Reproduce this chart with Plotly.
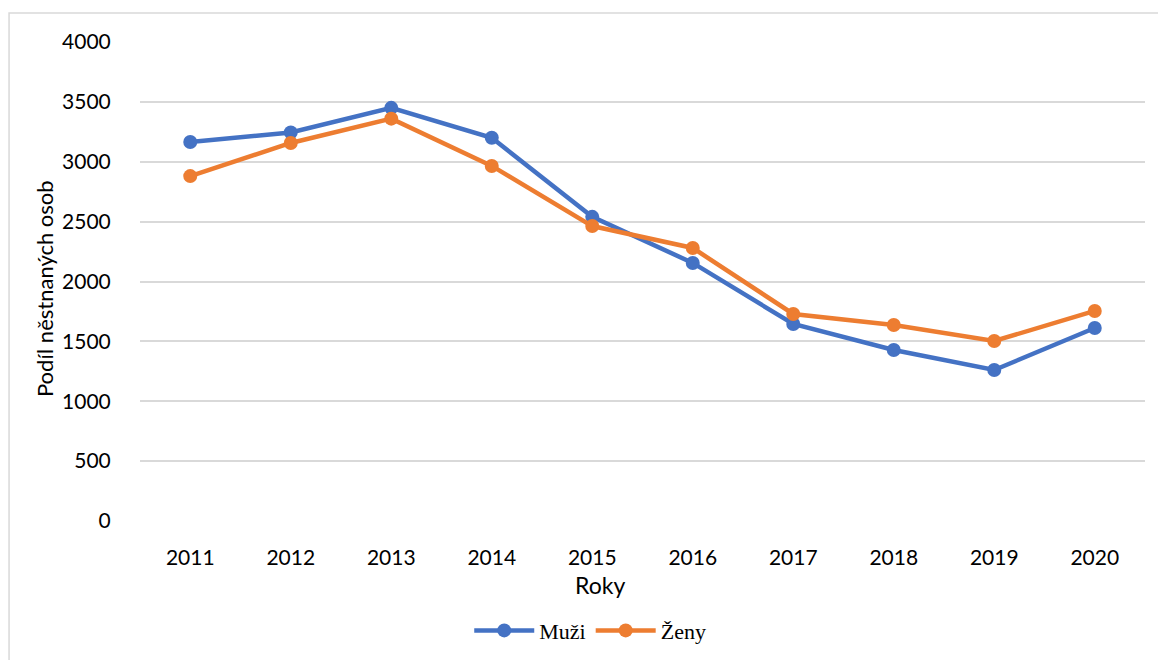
import plotly.graph_objects as go

years = ["2011", "2012", "2013", "2014", "2015", "2016", "2017", "2018", "2019", "2020"]
muzi = [3165, 3245, 3450, 3200, 2540, 2155, 1645, 1428, 1261, 1612]
zeny = [2880, 3157, 3360, 2965, 2463, 2280, 1729, 1637, 1503, 1754]
yticks = [0, 500, 1000, 1500, 2000, 2500, 3000, 3500, 4000]

fig = go.Figure()
fig.add_trace(go.Scatter(x=years, y=muzi, name="Muži", mode="lines+markers",
                         line=dict(color="#4472C4", width=4.5),
                         marker=dict(size=14, color="#4472C4")))
fig.add_trace(go.Scatter(x=years, y=zeny, name="Ženy", mode="lines+markers",
                         line=dict(color="#ED7D31", width=4.5),
                         marker=dict(size=14, color="#ED7D31")))

fig.update_layout(
    width=1158, height=652,
    margin=dict(l=132, r=21, t=34, b=139, autoexpand=False),
    paper_bgcolor="white", plot_bgcolor="white",
    font=dict(family="Lato, Open Sans, sans-serif", size=21, color="#000"),
    showlegend=True,
    legend=dict(orientation="h", x=0.448, xanchor="center", y=-0.185, yanchor="top",
                font=dict(family="Liberation Serif, Times New Roman, serif", size=22),
                itemwidth=60),
    xaxis=dict(type="category", range=[-0.5, 9.5], showgrid=False, zeroline=False,
               showline=False, automargin=False,
               ticks="outside", ticklen=18, tickcolor="rgba(0,0,0,0)"),
    yaxis=dict(range=[0, 4000], tickvals=yticks, showgrid=True, gridcolor="#D9D9D9",
               gridwidth=1.5, zeroline=False, showline=False, automargin=False,
               ticks="outside", ticklen=24, tickcolor="rgba(0,0,0,0)"),
    annotations=[
        dict(text="Roky", xref="paper", yref="paper", x=0.4577, y=-0.1336,
             xanchor="center", yanchor="middle", showarrow=False, font=dict(size=23)),
        dict(text="Podíl něstnaných osob", xref="paper", yref="paper", x=-0.0955, y=0.4843,
             xanchor="center", yanchor="middle", textangle=-90, showarrow=False,
             font=dict(size=22)),
    ],
    shapes=[dict(type="rect", xref="paper", yref="paper",
                 x0=-0.1303, x1=1.05, y0=-0.4, y1=1.0605,
                 line=dict(color="#D9D9D9", width=1.5), fillcolor="rgba(0,0,0,0)",
                 layer="below")],
)

fig.write_html("out.html")
